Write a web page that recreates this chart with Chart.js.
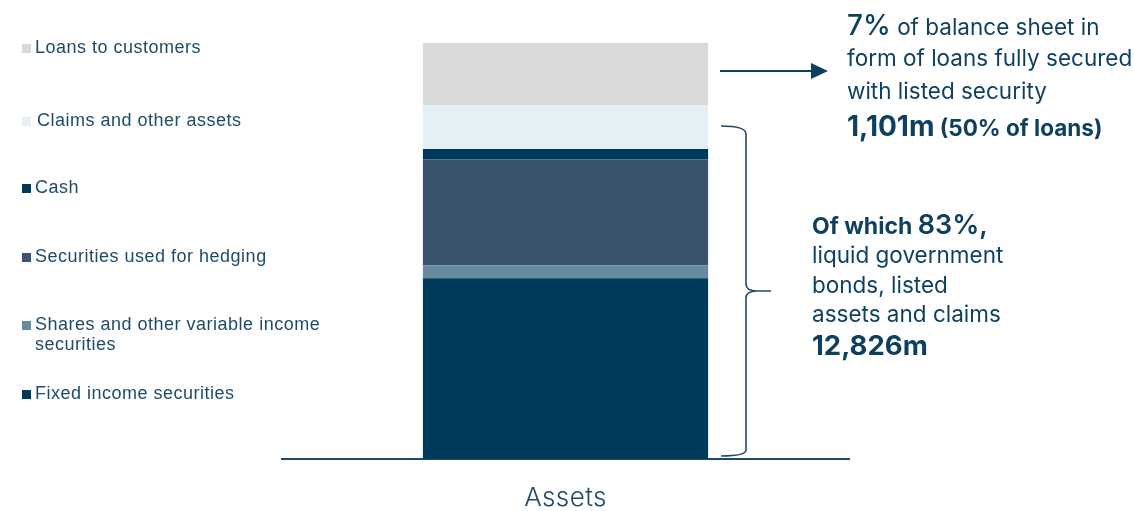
<!DOCTYPE html>
<html>
<head>
<meta charset="utf-8">
<script src="https://cdn.jsdelivr.net/npm/chart.js@4.4.0/dist/chart.umd.min.js"></script>
<style>
  html, body { margin: 0; padding: 0; background: #ffffff; }
  #wrap { width: 1134px; height: 511px; position: relative; }
</style>
</head>
<body>
<div id="wrap"><canvas id="c" width="1134" height="511"></canvas></div>
<script>
// ---- data (million) ----
const categories = ['Assets'];
const seriesNames = [
  'Fixed income securities',
  'Shares and other variable income securities',
  'Securities used for hedging',
  'Cash',
  'Claims and other assets',
  'Loans to customers'
];
const fixedIncome = [6430];
const sharesVariable = [460];
const hedging = [3770];
const cash = [360];
const claims = [1570];
const loans = [2200];

const seriesValues = [fixedIncome, sharesVariable, hedging, cash, claims, loans];
const seriesColors = ['#003b5a', '#678a9e', '#3a546f', '#003a5a', '#e4f0f6', '#d9d9d9'];

const total = seriesValues.reduce((s, a) => s + a[0], 0);

const TEXT = '#0d3f5e';
const LEGEND_TEXT = '#1f4b69';

// legend labels, top to bottom, with split lines and baselines
const legendLayout = [
  { idx: 5, lines: ['Loans to customers'], y: 53, x: 35 },
  { idx: 4, lines: ['Claims and other assets'], y: 126, x: 37 },
  { idx: 3, lines: ['Cash'], y: 193, x: 35 },
  { idx: 2, lines: ['Securities used for hedging'], y: 262, x: 35 },
  { idx: 1, lines: ['Shares and other variable income', 'securities'], y: 330, x: 35 },
  { idx: 0, lines: ['Fixed income securities'], y: 399, x: 35 }
];

function drawRuns(ctx, x, y, runs) {
  let cx = x;
  runs.forEach(r => {
    ctx.font = r.font;
    ctx.fillText(r.text, cx, y);
    cx += ctx.measureText(r.text).width;
  });
}

const annotations = {
  id: 'annotations',
  afterDraw(chart) {
    const ctx = chart.ctx;
    ctx.save();
    ctx.textBaseline = 'alphabetic';
    ctx.textAlign = 'left';

    // legend
    legendLayout.forEach(item => {
      const ds = chart.data.datasets[item.idx];
      ctx.fillStyle = ds.backgroundColor;
      ctx.fillRect(22, item.y - 9, 9, 9);
      ctx.fillStyle = LEGEND_TEXT;
      ctx.font = '18px "Liberation Sans", Arial, sans-serif';
      ctx.letterSpacing = '0.5px';
      item.lines.forEach((ln, i) => ctx.fillText(ln, item.x, item.y + i * 20));
    });
    ctx.letterSpacing = '0px';

    // category label under the axis
    const xs = chart.scales.x;
    ctx.fillStyle = LEGEND_TEXT;
    ctx.font = '300 26px "Inter", "Liberation Sans", sans-serif';
    ctx.letterSpacing = '0.4px';
    ctx.textAlign = 'center';
    chart.data.labels.forEach((lab, i) => {
      ctx.fillText(lab, xs.getPixelForValue(i), 506);
    });
    ctx.letterSpacing = '0px';
    ctx.textAlign = 'left';

    // arrow
    ctx.strokeStyle = '#0d3f5e';
    ctx.fillStyle = '#0d3f5e';
    ctx.lineWidth = 2;
    ctx.beginPath();
    ctx.moveTo(720, 71);
    ctx.lineTo(814, 71);
    ctx.stroke();
    ctx.beginPath();
    ctx.moveTo(828, 71);
    ctx.lineTo(811, 63);
    ctx.lineTo(811, 79);
    ctx.closePath();
    ctx.fill();

    // brace
    ctx.strokeStyle = '#1f4b69';
    ctx.lineWidth = 1.6;
    ctx.beginPath();
    ctx.moveTo(721, 126);
    ctx.quadraticCurveTo(746, 126, 746, 134);
    ctx.lineTo(746, 284);
    ctx.quadraticCurveTo(746, 291, 757, 291);
    ctx.moveTo(746, 298);
    ctx.quadraticCurveTo(746, 291, 757, 291);
    ctx.lineTo(771, 291);
    ctx.moveTo(746, 298);
    ctx.lineTo(746, 450);
    ctx.quadraticCurveTo(746, 456, 721, 456);
    ctx.stroke();

    // right text block 1
    ctx.fillStyle = TEXT;
    const F = '"Inter", "Liberation Sans", sans-serif';
    drawRuns(ctx, 847, 35, [
      { text: '7%', font: '500 28px ' + F },
      { text: ' of balance sheet in', font: '400 22.5px ' + F }
    ]);
    drawRuns(ctx, 847, 66, [{ text: 'form of loans fully secured', font: '400 22.5px ' + F }]);
    drawRuns(ctx, 847, 99, [{ text: 'with listed security', font: '400 22.5px ' + F }]);
    drawRuns(ctx, 847, 136, [
      { text: '1,101m', font: '700 28px ' + F },
      { text: ' (50% of loans)', font: '700 22.5px ' + F }
    ]);

    // right text block 2
    drawRuns(ctx, 812, 234, [
      { text: 'Of which ', font: '700 23px ' + F },
      { text: '83%,', font: '600 27px ' + F }
    ]);
    drawRuns(ctx, 812, 263, [{ text: 'liquid government', font: '400 22.5px ' + F }]);
    drawRuns(ctx, 812, 293, [{ text: 'bonds, listed', font: '400 22.5px ' + F }]);
    drawRuns(ctx, 812, 322, [{ text: 'assets and claims', font: '400 22.5px ' + F }]);
    drawRuns(ctx, 812, 355, [{ text: '12,826m', font: '700 27.5px ' + F }]);
    ctx.restore();
  }
};

new Chart(document.getElementById('c'), {
  type: 'bar',
  data: {
    labels: categories,
    datasets: seriesNames.map((name, i) => ({
      label: name,
      data: seriesValues[i],
      backgroundColor: seriesColors[i],
      borderWidth: 0,
      barPercentage: 1,
      categoryPercentage: 0.503
    }))
  },
  options: {
    responsive: false,
    animation: false,
    devicePixelRatio: 1,
    layout: { padding: { left: 282, right: 285, top: 43, bottom: 52 } },
    plugins: { legend: { display: false }, tooltip: { enabled: false } },
    scales: {
      x: {
        stacked: true,
        grid: { display: false, drawTicks: false },
        border: { display: true, color: '#1f4b69', width: 2 },
        ticks: { display: false }
      },
      y: {
        stacked: true,
        display: false,
        min: 0,
        max: total
      }
    }
  },
  plugins: [annotations]
});
</script>
</body>
</html>
